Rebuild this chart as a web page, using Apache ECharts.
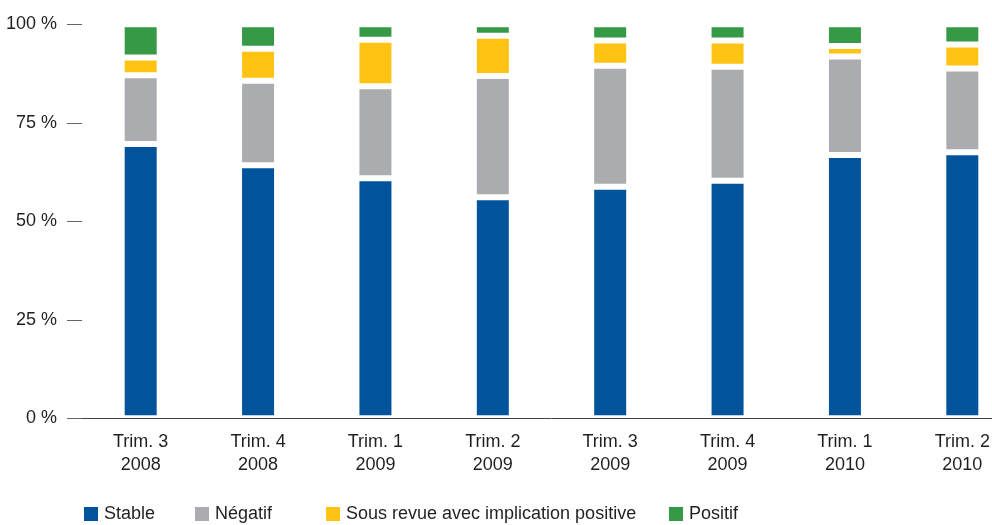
<!DOCTYPE html>
<html>
<head>
<meta charset="utf-8">
<script src="https://cdn.jsdelivr.net/npm/echarts@6/dist/echarts.min.js"></script>
<style>html,body{margin:0;padding:0;background:#fff;overflow:hidden;width:992px;height:525px}#c{width:1021px;height:525px}</style>
</head>
<body>
<div id="c"></div>
<script>
var categories = ['Trim. 3\n2008','Trim. 4\n2008','Trim. 1\n2009','Trim. 2\n2009','Trim. 3\n2009','Trim. 4\n2009','Trim. 1\n2010','Trim. 2\n2010'];
var stable =     [69.6, 64.2, 60.9, 56.1, 58.8, 60.3, 66.8, 67.5];
var negatif =    [17.5, 21.5, 23.4, 30.8, 30.7, 28.9, 25.0, 21.3];
var sousRevue =  [4.5, 8.1, 11.8, 10.2, 6.4, 6.7, 2.7, 6.1];
var positif =    [8.4, 6.2, 3.9, 2.9, 4.1, 4.1, 5.5, 5.1];
var seriesNames = ['Stable','Négatif','Sous revue avec implication positive','Positif'];
var yTicks = [0, 25, 50, 75, 100];

var FONT = "'Liberation Sans', sans-serif";
var colors = ['#01539B', '#ABACAF', '#FFC313', '#359946'];
var chart = echarts.init(document.getElementById('c'), null, {renderer: 'canvas'});
function mk(name, data, color) {
  return {
    name: name, type: 'bar', stack: 'total', data: data, barWidth: 38,
    itemStyle: {color: color, borderColor: '#ffffff', borderWidth: 3},
    animation: false
  };
}
var legendLefts = [82, 193, 324, 667];
chart.setOption({
  animation: false,
  textStyle: {fontFamily: FONT},
  grid: {left: 82, right: 0, top: 24.3, height: 394},
  legend: seriesNames.map(function (n, i) {
    return {
      data: [n], left: legendLefts[i], top: 505, itemWidth: 16, itemHeight: 16, icon: 'rect',
      itemGap: 0, padding: 0,
      textStyle: {fontFamily: FONT, fontSize: 18, color: '#231F20'}
    };
  }),
  xAxis: {
    type: 'category', data: categories, z: 5,
    axisLine: {show: true, lineStyle: {color: '#444', width: 1}},
    axisTick: {show: false},
    axisLabel: {fontFamily: FONT, fontSize: 18, color: '#231F20', lineHeight: 23, margin: 12, interval: 0}
  },
  yAxis: {
    type: 'value', min: 0, max: 100, interval: 25,
    axisLine: {show: false},
    axisTick: {show: true, length: 15, lineStyle: {color: '#666', width: 1}},
    splitLine: {show: false},
    axisLabel: {fontFamily: FONT, fontSize: 18, color: '#231F20', margin: 25,
      formatter: function (v) { return yTicks.indexOf(v) >= 0 ? v + ' %' : ''; }}
  },
  series: [
    mk(seriesNames[0], stable, colors[0]),
    mk(seriesNames[1], negatif, colors[1]),
    mk(seriesNames[2], sousRevue, colors[2]),
    mk(seriesNames[3], positif, colors[3])
  ]
});
</script>
</body>
</html>
